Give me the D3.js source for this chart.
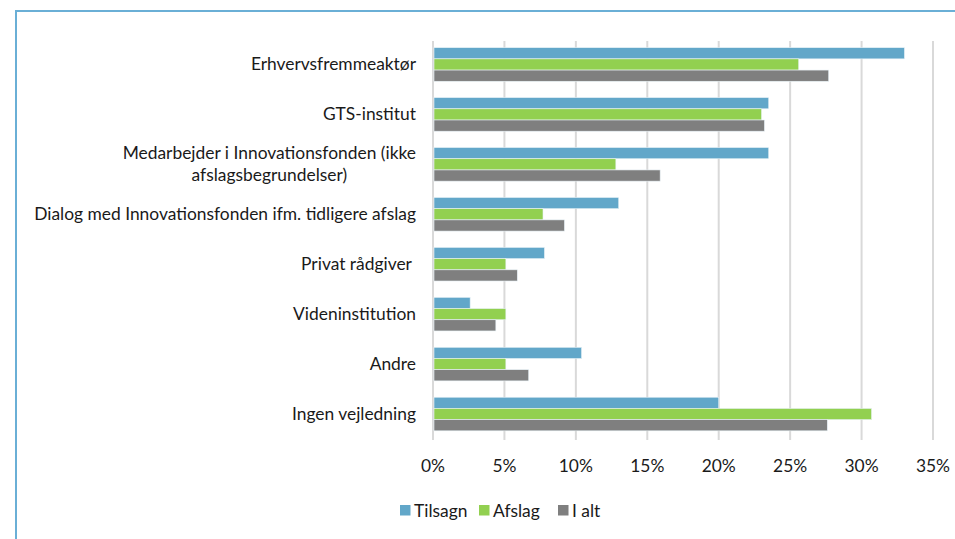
<!DOCTYPE html>
<html lang="da">
<head>
<meta charset="UTF-8">
<title>Vejledning</title>
<script src="https://cdn.jsdelivr.net/npm/d3@7"></script>
<style>
  body { margin: 0; background: #fff; }
  text { font-family: Lato, "Open Sans", sans-serif; fill: #1a1a1a; }
</style>
</head>
<body>
<script>
    // data (shares, %)
    var categories = [
        ["Erhvervsfremmeaktør"],
        ["GTS-institut"],
        ["Medarbejder i Innovationsfonden (ikke", "afslagsbegrundelser)"],
        ["Dialog med Innovationsfonden ifm. tidligere afslag"],
        ["Privat rådgiver\u00a0"],
        ["Videninstitution"],
        ["Andre"],
        ["Ingen vejledning"]
    ];
    var seriesNames = ["Tilsagn", "Afslag", "I alt"];
    var tilsagn = [33.0, 23.5, 23.5, 13.0, 7.8, 2.6, 10.4, 20.0];
    var afslag  = [25.6, 23.0, 12.8, 7.7, 5.1, 5.1, 5.1, 30.7];
    var iAlt    = [27.7, 23.2, 15.9, 9.2, 5.9, 4.4, 6.7, 27.6];
    var ticks = [0, 5, 10, 15, 20, 25, 30, 35];
    var colors = ["#62a7c9", "#92d050", "#7f7f7f"];

    var width = 955, height = 539;
    var svg = d3.select("body").append("svg")
        .attr("width", width)
        .attr("height", height);

    // frame
    svg.append("path")
        .attr("d", "M16,539 V11 H955")
        .attr("fill", "none")
        .attr("stroke", "#6aafd6")
        .attr("stroke-width", 2);

    // pick a font size so the longest label gets the width it has in the picture
    var probe = svg.append("text").style("font-size", "100px").text(categories[3][0]);
    var fs = 100 * 382 / probe.node().getComputedTextLength();
    probe.remove();

    var x = d3.scaleLinear().domain([0, 35]).range([433, 933]);
    var y = d3.scaleBand().domain(d3.range(categories.length)).range([39.5, 439]);
    var barH = 11.2;
    var inner = d3.scaleBand().domain(d3.range(3)).range([0, barH * 3]);
    var pad = (y.bandwidth() - barH * 3) / 2;

    // gridlines
    svg.append("g").selectAll("line")
        .data(ticks)
        .enter().append("line")
        .attr("x1", function (d) { return x(d); })
        .attr("x2", function (d) { return x(d); })
        .attr("y1", 41).attr("y2", 440)
        .attr("stroke", "#d9d9d9")
        .attr("stroke-width", 2);

    var all = [tilsagn, afslag, iAlt];
    var groups = svg.append("g").selectAll("g")
        .data(categories)
        .enter().append("g")
        .attr("transform", function (d, i) { return "translate(0," + (y(i) + pad) + ")"; });

    groups.selectAll("rect")
        .data(function (d, i) { return all.map(function (s, k) { return {k: k, v: s[i]}; }); })
        .enter().append("rect")
        .attr("x", x(0) + 1)
        .attr("y", function (d) { return inner(d.k); })
        .attr("width", function (d) { return x(d.v) - x(0) - 1; })
        .attr("height", inner.bandwidth())
        .attr("fill", function (d) { return colors[d.k]; })
        .attr("stroke", "#e8f2f7")
        .attr("stroke-width", 0.6);

    // category labels: block right-aligned, lines centred inside block
    var labelRight = 416;
    var lab = svg.append("g");
    categories.forEach(function (lines, i) {
        var cy = y(i) + y.bandwidth() / 2;
        var t = lab.append("text")
            .attr("text-anchor", "middle")
            .style("font-size", fs + "px");
        var lh = 22;
        var y0 = cy - (lines.length - 1) * lh / 2 + 6;
        var spans = lines.map(function (l, j) {
            return t.append("tspan").attr("y", y0 + j * lh).text(l);
        });
        var w = d3.max(spans, function (s) { return s.node().getComputedTextLength(); });
        spans.forEach(function (s) { s.attr("x", labelRight - w / 2); });
    });

    // x axis labels
    svg.append("g").selectAll("text")
        .data(ticks)
        .enter().append("text")
        .attr("x", function (d) { return x(d); })
        .attr("y", 472)
        .attr("text-anchor", "middle")
        .style("font-size", fs + "px")
        .text(function (d) { return d + "%"; });

    // legend
    var legX = [400, 479, 558];
    var leg = svg.append("g").selectAll("g")
        .data(seriesNames)
        .enter().append("g")
        .attr("transform", function (d, i) { return "translate(" + legX[i] + ",505)"; });
    leg.append("rect")
        .attr("width", 10.5).attr("height", 10.5)
        .attr("fill", function (d, i) { return colors[i]; });
    leg.append("text")
        .attr("x", 14).attr("y", 11.5)
        .style("font-size", fs + "px")
        .text(function (d) { return d; });
</script>
</body>
</html>
